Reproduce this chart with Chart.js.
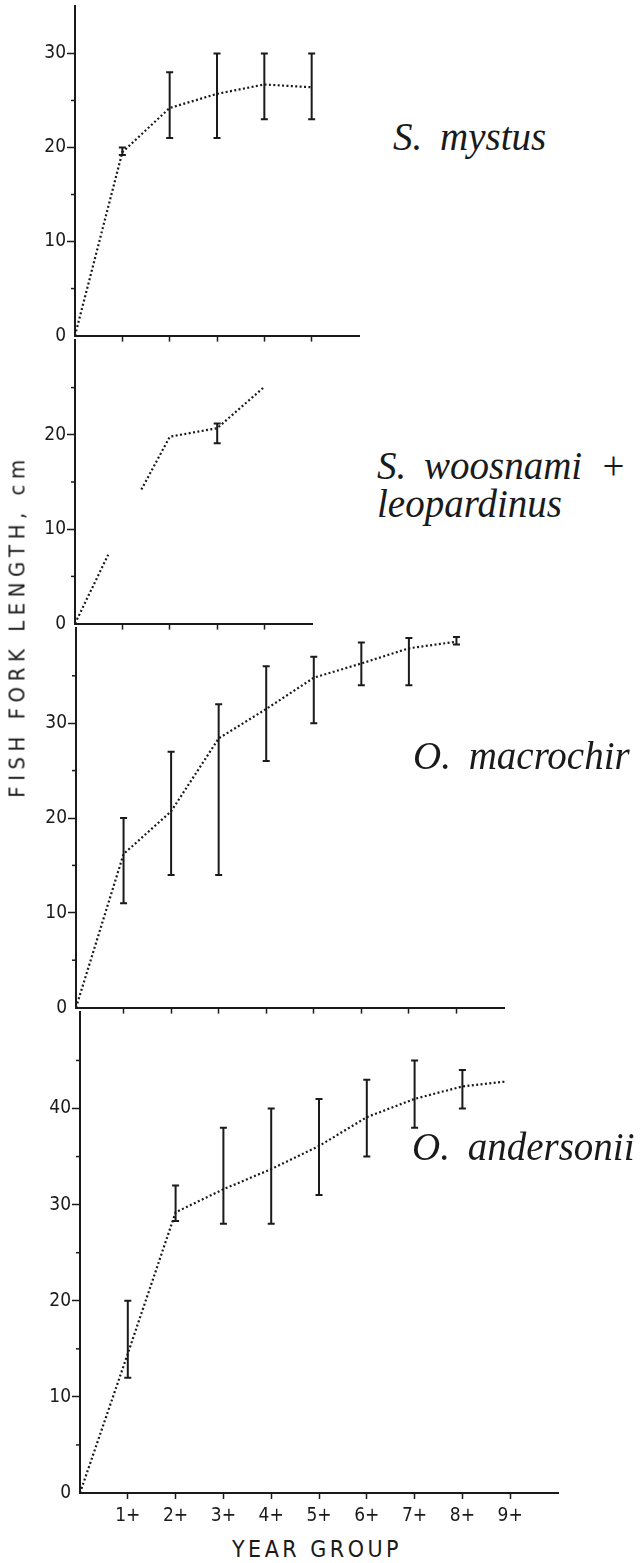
<!DOCTYPE html>
<html>
<head>
<meta charset="utf-8">
<script src="https://cdn.jsdelivr.net/npm/chart.js@4"></script>
<style>
  body { margin: 0; background: #fff; }
  #page { position: relative; width: 644px; height: 1563px; overflow: hidden; background: #fff; }
  .panel { position: absolute; left: 0; }
  .sp { position: absolute; font-family: 'Liberation Serif', 'Times New Roman', serif; font-style: italic;
        font-size: 39px; line-height: 39px; color: #1a1a1a; word-spacing: 8px; white-space: nowrap; }
  .lab { position: absolute; font-family: 'Liberation Sans Narrow', 'DejaVu Sans Condensed', 'DejaVu Sans', sans-serif;
         color: #1a1a1a; white-space: nowrap; }
</style>
</head>
<body>
<div id="page">
  <div class="panel" id="p1"><canvas id="c1"></canvas></div>
  <div class="panel" id="p2"><canvas id="c2"></canvas></div>
  <div class="panel" id="p3"><canvas id="c3"></canvas></div>
  <div class="panel" id="p4"><canvas id="c4"></canvas></div>

  <div class="sp" style="left:393px; top:117px;">S. mystus</div>
  <div class="sp" style="left:377px; top:446px;">S. woosnami +</div>
  <div class="sp" style="left:377px; top:484px;">leopardinus</div>
  <div class="sp" style="left:413px; top:736px;">O. macrochir</div>
  <div class="sp" style="left:412px; top:1127px;">O. andersonii</div>

  <div class="lab" style="left:17px; top:626px; font-size:22px; letter-spacing:5.5px; transform:translate(-50%,-50%) rotate(-90deg);">FISH FORK LENGTH, cm</div>
  <div class="lab" style="left:317px; top:1549px; font-size:23px; letter-spacing:3.5px; transform:translate(-50%,-50%);">YEAR GROUP</div>
</div>

<script>
// ---- data (x = year group, y = fork length in cm) ----

// S. mystus
const mystusX    = [0, 1, 2, 3, 4, 5];
const mystusMean = [0, 19.5, 24.2, 25.7, 26.7, 26.4];
const mystusLow  = [null, 19.2, 21, 21, 23, 23];
const mystusHigh = [null, 20, 28, 30, 30, 30];

// S. woosnami + leopardinus (broken line, null = gap)
const woosX    = [0, 0.7, 1, 1.4, 2, 3, 4];
const woosMean = [0, 7.3, null, 14.2, 19.8, 20.7, 25.1];
const woosLow  = [null, null, null, null, null, 19.1, null];
const woosHigh = [null, null, null, null, null, 21.2, null];

// O. macrochir
const macroX    = [0, 1, 2, 3, 4, 5, 6, 7, 8];
const macroMean = [0, 16.2, 20.7, 28.4, 31.5, 34.8, 36.3, 37.9, 38.6];
const macroLow  = [null, 11, 14, 14, 26, 30, 34, 34, 38.3];
const macroHigh = [null, 20, 27, 32, 36, 37, 38.5, 39, 39.1];

// O. andersonii
const andX    = [0, 1, 2, 3, 4, 5, 6, 7, 8, 8.9];
const andMean = [0, 14.5, 29.2, 31.6, 33.7, 36.1, 39.1, 41, 42.3, 42.8];
const andLow  = [null, 12, 28.3, 28, 28, 31, 35, 38, 40, null];
const andHigh = [null, 20, 32, 38, 40, 41, 43, 45, 44, null];

const yearLabels = ['', '1+', '2+', '3+', '4+', '5+', '6+', '7+', '8+', '9+', ''];

const ink = '#1a1a1a';
const tickFont = { family: "'Liberation Sans Narrow', 'DejaVu Sans Condensed', 'DejaVu Sans', sans-serif", size: 19 };

// error bars + short minor ticks on the y axis
const errBars = {
  id: 'errBars',
  afterDatasetsDraw(chart, args, opts) {
    const ctx = chart.ctx, xs = chart.scales.x, ys = chart.scales.y;
    ctx.save();
    ctx.strokeStyle = ink;
    ctx.lineWidth = 2;
    (opts.x || []).forEach((xv, i) => {
      const lo = opts.lo[i], hi = opts.hi[i];
      if (lo == null || hi == null) return;
      const px = xs.getPixelForValue(xv);
      const y1 = ys.getPixelForValue(lo), y2 = ys.getPixelForValue(hi);
      ctx.beginPath();
      ctx.moveTo(px, y1); ctx.lineTo(px, y2);
      ctx.moveTo(px - 3.5, y1); ctx.lineTo(px + 3.5, y1);
      ctx.moveTo(px - 3.5, y2); ctx.lineTo(px + 3.5, y2);
      ctx.stroke();
    });
    // minor ticks every 5 cm
    ctx.lineWidth = 1.5;
    const left = chart.chartArea.left;
    for (let v = 5; v < ys.max; v += 10) {
      const py = ys.getPixelForValue(v);
      ctx.beginPath();
      ctx.moveTo(left - 4, py); ctx.lineTo(left, py);
      ctx.stroke();
    }
    ctx.restore();
  }
};

function makePanel(id, box, xs, ys, lo, hi, xMax, yMax, showLabels) {
  const padTop = 12, padRight = 12;
  const xH = showLabels ? 36 : 8;
  const w = box.right + padRight;
  const h = (box.bottom - box.top) + padTop + xH;
  const wrap = document.getElementById('p' + id);
  wrap.style.top = (box.top - padTop) + 'px';
  const cv = document.getElementById('c' + id);
  cv.width = w; cv.height = h;
  cv.style.width = w + 'px'; cv.style.height = h + 'px';

  new Chart(cv, {
    type: 'line',
    data: {
      datasets: [{
        data: xs.map((x, i) => ({ x: x, y: ys[i] })),
        borderColor: ink,
        borderWidth: 2.2,
        borderDash: [2, 2.4],
        pointRadius: 0,
        tension: 0,
        spanGaps: false,
        fill: false
      }]
    },
    options: {
      responsive: false,
      animation: false,
      devicePixelRatio: 1,
      layout: { autoPadding: false, padding: { top: padTop, right: padRight, left: 0, bottom: 0 } },
      plugins: {
        legend: { display: false },
        tooltip: { enabled: false },
        errBars: { x: xs, lo: lo, hi: hi }
      },
      scales: {
        x: {
          type: 'linear', min: 0, max: xMax,
          afterFit: s => { s.height = xH; },
          border: { display: true, color: ink, width: 2 },
          grid: {
            drawOnChartArea: false, drawTicks: true, tickLength: 6, tickWidth: 1.5,
            tickColor: c => (c.tick && (c.tick.value === 0 || c.tick.value === xMax)) ? 'rgba(0,0,0,0)' : ink
          },
          ticks: {
            display: showLabels, stepSize: 1, padding: 6, color: ink, font: tickFont,
            maxRotation: 0, autoSkip: false,
            callback: v => yearLabels[v] || ''
          }
        },
        y: {
          type: 'linear', min: 0, max: yMax,
          afterFit: s => { s.width = box.left; },
          border: { display: true, color: ink, width: 2 },
          grid: {
            drawOnChartArea: false, drawTicks: true, tickLength: 8, tickWidth: 1.5,
            tickColor: c => (c.tick && (c.tick.value === 0 || c.tick.value % 10 !== 0 || c.tick.value === yMax)) ? 'rgba(0,0,0,0)' : ink
          },
          ticks: {
            stepSize: 10, padding: 1, color: ink, font: tickFont,
            callback: v => (v % 10 === 0 && v !== yMax) ? String(v) : ''
          }
        }
      }
    },
    plugins: [errBars]
  });
}

makePanel(1, { top: 6,    bottom: 340,  left: 75, right: 359 }, mystusX, mystusMean, mystusLow, mystusHigh, 6, 35, false);
makePanel(2, { top: 340,  bottom: 628,  left: 75, right: 312 }, woosX, woosMean, woosLow, woosHigh, 5, 30, false);
makePanel(3, { top: 628,  bottom: 1012, left: 76, right: 504 }, macroX, macroMean, macroLow, macroHigh, 9, 40, false);
makePanel(4, { top: 1012, bottom: 1493, left: 80, right: 558 }, andX, andMean, andLow, andHigh, 10, 50, true);
</script>
</body>
</html>
